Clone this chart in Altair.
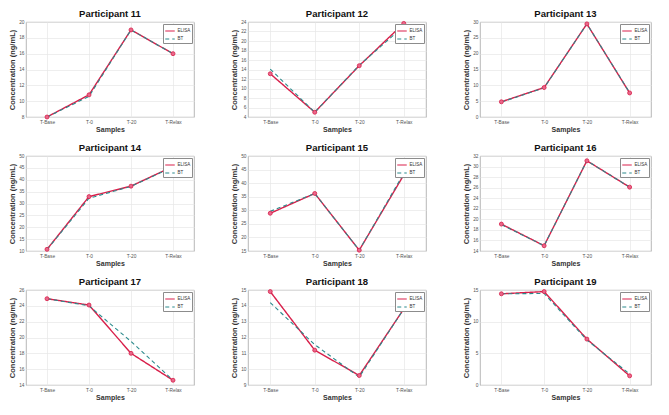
import altair as alt
import pandas as pd

samples = ["T-Base", "T-0", "T-20", "T-Relax"]
methods = ["ELISA", "BT"]
participants = ["Participant 11", "Participant 12", "Participant 13",
                "Participant 14", "Participant 15", "Participant 16",
                "Participant 17", "Participant 18", "Participant 19"]

elisa_11 = [8.0, 10.8, 19.0, 16.0]
bt_11 = [8.0, 10.6, 19.0, 16.0]
elisa_12 = [13.1, 5.0, 14.8, 23.7]
bt_12 = [14.1, 5.0, 14.9, 23.1]
elisa_13 = [4.8, 9.3, 29.4, 7.6]
bt_13 = [4.7, 9.2, 29.4, 7.7]
elisa_14 = [10.7, 32.9, 37.3, 45.6]
bt_14 = [10.6, 32.2, 37.2, 45.4]
elisa_15 = [28.9, 36.2, 15.3, 43.0]
bt_15 = [29.6, 36.2, 15.3, 43.6]
elisa_16 = [19.1, 15.0, 31.1, 26.1]
bt_16 = [19.0, 15.0, 31.1, 26.1]
elisa_17 = [24.9, 24.1, 18.0, 14.6]
bt_17 = [24.9, 24.0, 19.5, 14.6]
elisa_18 = [14.9, 11.2, 9.6, 13.8]
bt_18 = [14.2, 11.55, 9.5, 13.8]
elisa_19 = [14.4, 14.75, 7.25, 1.45]
bt_19 = [14.4, 14.45, 7.1, 1.75]

elisa_all = [elisa_11, elisa_12, elisa_13, elisa_14, elisa_15, elisa_16, elisa_17, elisa_18, elisa_19]
bt_all = [bt_11, bt_12, bt_13, bt_14, bt_15, bt_16, bt_17, bt_18, bt_19]

y_domains = [[8, 20], [4, 24], [0, 30], [10, 50], [15, 50], [14, 32], [14, 26], [9, 15], [0, 15]]
y_ticks = [
    [8, 10, 12, 14, 16, 18, 20],
    [4, 6, 8, 10, 12, 14, 16, 18, 20, 22, 24],
    [0, 5, 10, 15, 20, 25, 30],
    [10, 15, 20, 25, 30, 35, 40, 45, 50],
    [15, 20, 25, 30, 35, 40, 45, 50],
    [14, 16, 18, 20, 22, 24, 26, 28, 30, 32],
    [14, 16, 18, 20, 22, 24, 26],
    [9, 10, 11, 12, 13, 14, 15],
    [0, 5, 10, 15],
]

col_widths = [168, 178, 171]
panel_height = 95

RED = "#d81f4a"
TEAL = "#2b8a8c"
FONT = "Liberation Sans"


def make_panel(i):
    elisa = elisa_all[i]
    bt = bt_all[i]
    df = pd.DataFrame({
        "Sample": samples * 2,
        "idx": list(range(4)) * 2,
        "Method": ["ELISA"] * 4 + ["BT"] * 4,
        "Value": elisa + bt,
    })
    legend = alt.Legend(title=None, orient="top-right", offset=2, padding=1.5,
                        fillColor="white", strokeColor="#8c8c8c",
                        labelFontSize=4.5, labelFont=FONT, labelColor="#333",
                        symbolType="stroke", symbolSize=90, symbolStrokeWidth=1.2,
                        rowPadding=0, labelOffset=2)
    x = alt.X("Sample:N", sort=samples,
              scale=alt.Scale(type="point", padding=0.5),
              axis=alt.Axis(title="Samples", labelAngle=0))
    y = alt.Y("Value:Q",
              scale=alt.Scale(domain=y_domains[i], nice=False, zero=False),
              axis=alt.Axis(title="Concentration (ng/mL)", values=y_ticks[i]))
    color = alt.Color("Method:N", scale=alt.Scale(domain=methods, range=[RED, TEAL]),
                      legend=legend)
    dash = alt.StrokeDash("Method:N", scale=alt.Scale(domain=methods, range=[[1, 0], [4, 3]]),
                          legend=legend)
    base = alt.Chart(df)
    elisa_line = base.transform_filter(alt.datum.Method == "ELISA").mark_line(
        strokeWidth=1.4).encode(x=x, y=y, color=color, strokeDash=dash,
                                order=alt.Order("idx:Q"))
    bt_line = base.transform_filter(alt.datum.Method == "BT").mark_line(
        strokeWidth=1.1).encode(x=x, y=y, color=color, strokeDash=dash,
                                order=alt.Order("idx:Q"))
    pts = base.transform_filter(alt.datum.Method == "ELISA").mark_point(
        shape="circle", filled=True, size=16, opacity=1,
        fill="#e8678a", stroke=RED, strokeWidth=0.8).encode(x=x, y=y)
    return alt.layer(elisa_line, bt_line, pts).properties(
        width=col_widths[i % 3], height=panel_height,
        title=alt.TitleParams(text=participants[i], fontSize=9.5, fontWeight="bold",
                              font=FONT, color="#111", offset=1, anchor="middle"))


rows = []
for r in range(3):
    row = alt.hconcat(*[make_panel(r * 3 + c) for c in range(3)], spacing=35).resolve_scale(
        x="independent", y="independent", color="independent", strokeDash="independent"
    ).resolve_legend(color="independent", strokeDash="independent")
    rows.append(row)

chart = alt.vconcat(*rows, spacing=8).resolve_scale(
    x="independent", y="independent", color="independent", strokeDash="independent"
).resolve_legend(color="independent", strokeDash="independent").properties(
    padding=0
).configure_view(
    stroke="#a6a6a6", strokeWidth=0.8
).configure_axis(
    grid=True, gridColor="#e6e6e6", gridWidth=0.7, domain=False, ticks=False,
    labelFont=FONT, labelFontSize=4.8, labelColor="#555", labelPadding=2,
    titleFont=FONT, titleFontWeight="bold", titleColor="#333", titlePadding=2
).configure_axisX(
    titleFontSize=7
).configure_axisY(
    titleFontSize=7.5
)

chart.save("out.html", embed_options={"renderer": "svg", "actions": False})
